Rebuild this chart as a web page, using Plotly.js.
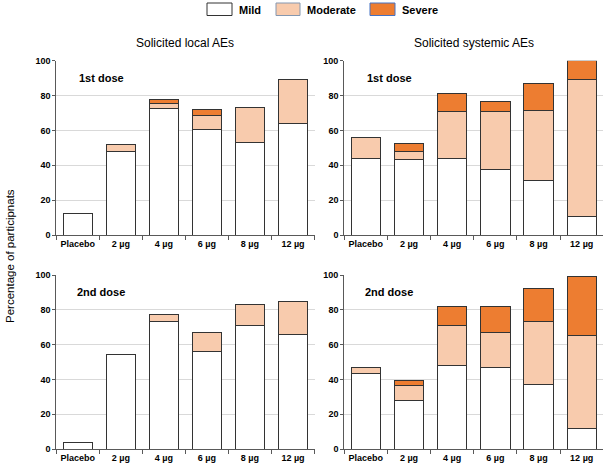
<!DOCTYPE html>
<html>
<head>
<meta charset="utf-8">
<script src="https://cdn.plot.ly/plotly-3.0.1.min.js"></script>
<style>html,body{margin:0;padding:0;background:#fff;}#chart{width:608px;height:470px;}</style>
</head>
<body>
<div id="chart"></div>
<script>
// ---- data ----
const categories = ["Placebo", "2 µg", "4 µg", "6 µg", "8 µg", "12 µg"];
const severityNames = ["Mild", "Moderate", "Severe"];

// Solicited local AEs, 1st dose (segment heights, %)
const local1Mild     = [12.5, 48.0, 72.7, 60.6, 53.2, 64.1];
const local1Moderate = [0,    4.0,  2.8,  7.9,  20.0, 25.2];
const local1Severe   = [0,    0,    2.3,  3.6,  0,    0];

// Solicited systemic AEs, 1st dose
const sys1Mild     = [44.0, 43.4, 44.0, 37.7, 31.4, 10.9];
const sys1Moderate = [12.0, 4.6,  26.9, 33.2, 40.1, 78.4];
const sys1Severe   = [0,    4.6,  10.4, 5.8,  15.5, 10.7];

// Solicited local AEs, 2nd dose
const local2Mild     = [3.8, 54.4, 73.4, 56.1, 71.1, 65.9];
const local2Moderate = [0,   0,    4.0,  10.9, 12.0, 19.0];
const local2Severe   = [0,   0,    0,    0,    0,    0];

// Solicited systemic AEs, 2nd dose
const sys2Mild     = [43.6, 27.8, 47.8, 46.7, 37.0, 11.8];
const sys2Moderate = [3.1,  8.6,  22.9, 20.0, 36.0, 53.7];
const sys2Severe   = [0,    2.8,  11.2, 15.2, 19.4, 33.7];

const panelTitles = ["Solicited local AEs", "Solicited systemic AEs"];
const doseLabels = ["1st dose", "2nd dose"];
const yTitle = "Percentage of participnats";
const yTicks = [0, 20, 40, 60, 80, 100];

// ---- styling ----
const W = 608, H = 470;
const fillColors = ["#FFFFFF", "#F8CBAD", "#ED7D31"];
const outline = "#333333";
const px = v => v / W;
const py = v => 1 - v / H;

const panels = [
  {series: [local1Mild, local1Moderate, local1Severe], xa: "x",  ya: "y"},
  {series: [sys1Mild, sys1Moderate, sys1Severe],       xa: "x2", ya: "y2"},
  {series: [local2Mild, local2Moderate, local2Severe], xa: "x3", ya: "y3"},
  {series: [sys2Mild, sys2Moderate, sys2Severe],       xa: "x4", ya: "y4"}
];

const traces = [];
panels.forEach(p => {
  p.series.forEach((vals, k) => {
    traces.push({
      type: "bar",
      x: categories,
      y: vals.map(v => v === 0 ? null : v),
      name: severityNames[k],
      xaxis: p.xa, yaxis: p.ya,
      marker: {color: fillColors[k], line: {color: outline, width: 1}},
      showlegend: false,
      hoverinfo: "x+y+name"
    });
  });
});

const xDomains = [[px(56.3), px(314.5)], [px(344.2), px(603.3)]];
const yDomains = [[py(235), py(60.7)], [py(449), py(275)]];
const tickFont = {family: "Liberation Sans, Arial, sans-serif", size: 9, color: "#000", weight: "bold"};

function xAxis(col, anchor) {
  return {
    domain: xDomains[col], anchor: anchor, type: "category",
    range: [-0.5, 5.5], tickangle: 0,
    showline: true, linecolor: "#595959", linewidth: 1,
    ticks: "outside", tickson: "boundaries", ticklen: 4, tickcolor: "#595959",
    tickfont: tickFont,
    showgrid: false, zeroline: false, fixedrange: true
  };
}
function yAxis(row, anchor) {
  return {
    domain: yDomains[row], anchor: anchor,
    range: [0, 100], tickvals: yTicks,
    showline: true, linecolor: "#595959", linewidth: 1,
    ticks: "outside", ticklen: 3, tickcolor: "#595959",
    tickfont: tickFont,
    showgrid: true, gridcolor: "#D9D9D9", gridwidth: 1,
    zeroline: false, fixedrange: true
  };
}

const annFont = {family: "Liberation Sans, Arial, sans-serif", color: "#000"};
const annotations = [
  {text: panelTitles[0], x: px(185.4), y: py(43), xref: "paper", yref: "paper", showarrow: false,
   xanchor: "center", yanchor: "middle", font: Object.assign({size: 12}, annFont)},
  {text: panelTitles[1], x: px(473.7), y: py(43), xref: "paper", yref: "paper", showarrow: false,
   xanchor: "center", yanchor: "middle", font: Object.assign({size: 12}, annFont)},
  {text: doseLabels[0], x: px(77), y: py(78), xref: "paper", yref: "paper", showarrow: false,
   xanchor: "left", yanchor: "middle", font: Object.assign({size: 11, weight: "bold"}, annFont)},
  {text: doseLabels[0], x: px(364.5), y: py(78), xref: "paper", yref: "paper", showarrow: false,
   xanchor: "left", yanchor: "middle", font: Object.assign({size: 11, weight: "bold"}, annFont)},
  {text: doseLabels[1], x: px(74.5), y: py(292), xref: "paper", yref: "paper", showarrow: false,
   xanchor: "left", yanchor: "middle", font: Object.assign({size: 11, weight: "bold"}, annFont)},
  {text: doseLabels[1], x: px(362.5), y: py(292), xref: "paper", yref: "paper", showarrow: false,
   xanchor: "left", yanchor: "middle", font: Object.assign({size: 11, weight: "bold"}, annFont)},
  {text: yTitle, x: px(10), y: py(256), xref: "paper", yref: "paper", showarrow: false,
   textangle: -90, xanchor: "center", yanchor: "middle", font: Object.assign({size: 11.5}, annFont)}
];

// custom legend (wide swatches like the reference)
const legendBoxes = [[207, 232], [276, 300], [370, 395]];
const legendText = [237, 305, 400];
const legendLine = ["#333333", "#8497B0", "#4472C4"];
const shapes = [];
severityNames.forEach((n, k) => {
  shapes.push({type: "rect", xref: "paper", yref: "paper",
    x0: px(legendBoxes[k][0]), x1: px(legendBoxes[k][1]), y0: py(15.5), y1: py(3),
    fillcolor: fillColors[k], line: {color: legendLine[k], width: 1}});
  annotations.push({text: n, x: px(legendText[k]), y: py(9.5), xref: "paper", yref: "paper",
    showarrow: false, xanchor: "left", yanchor: "middle",
    font: Object.assign({size: 11, weight: "bold"}, annFont)});
});

const layout = {
  width: W, height: H,
  margin: {l: 0, r: 0, t: 0, b: 0},
  paper_bgcolor: "#fff", plot_bgcolor: "#fff",
  barmode: "stack", bargap: 0.32,
  showlegend: false,
  xaxis: xAxis(0, "y"), yaxis: yAxis(0, "x"),
  xaxis2: xAxis(1, "y2"), yaxis2: yAxis(0, "x2"),
  xaxis3: xAxis(0, "y3"), yaxis3: yAxis(1, "x3"),
  xaxis4: xAxis(1, "y4"), yaxis4: yAxis(1, "x4"),
  annotations: annotations,
  shapes: shapes
};

Plotly.newPlot("chart", traces, layout, {displayModeBar: false, staticPlot: true});
</script>
</body>
</html>
